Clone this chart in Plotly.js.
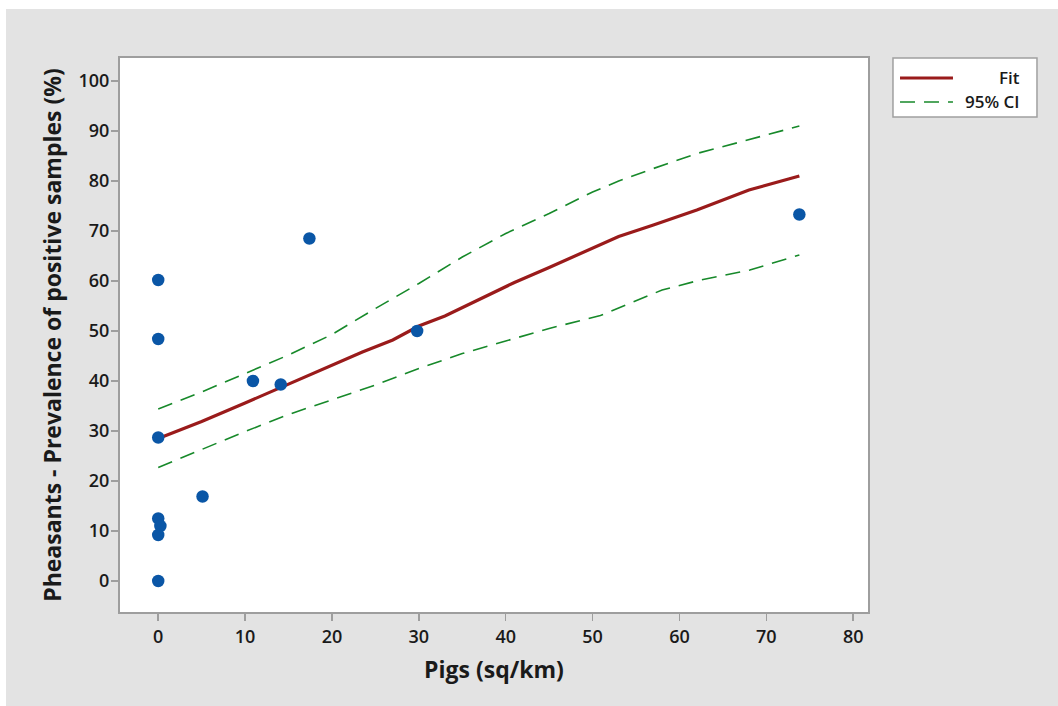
<!DOCTYPE html>
<html><head><meta charset="utf-8">
<script src="https://cdn.plot.ly/plotly-3.0.1.min.js"></script>
<style>
html,body{margin:0;padding:0;background:#ffffff;width:1058px;height:706px;overflow:hidden;}
#chart{position:absolute;left:6px;top:9px;width:1052px;height:697px;}
</style></head>
<body><div id="chart"></div>
<script>
// Observations
const pigs = [0, 0, 17.4, 29.8, 10.9, 14.1, 0, 5.1, 0, 0.25, 0, 0, 73.8];
const prevalence = [60.2, 48.4, 68.5, 50, 40, 39.3, 28.7, 16.9, 12.5, 11, 9.2, 0, 73.3];

// Fitted line
const fitX = [0, 2.5, 5, 10, 15, 20, 23.5, 27, 30, 33, 36, 39, 41, 45, 50, 53, 57, 62, 68, 73.8];
const fitY = [28.5, 30.2, 31.9, 35.6, 39.4, 43.2, 45.8, 48.2, 51, 53, 55.5, 57.9, 59.7, 62.7, 66.5, 68.9, 71.2, 74.2, 78.2, 81];

// 95% CI upper
const upX = [0, 5, 10, 15, 20, 25, 30, 35, 40, 45, 50, 53, 57, 62, 67, 73.8];
const upY = [34.4, 37.8, 41.5, 45.2, 49.3, 54.5, 59.5, 64.8, 69.5, 73.5, 77.8, 80, 82.5, 85.5, 87.8, 91];

// 95% CI lower
const loX = [0, 5, 10, 15, 21, 25, 30, 35, 40, 45, 50.9, 54.7, 58, 62.4, 68.1, 73.8];
const loY = [22.7, 26.3, 29.9, 33.3, 36.9, 39.2, 42.5, 45.5, 48, 50.5, 53.1, 55.8, 58.2, 60.2, 62.2, 65.2];

const xTicks = [0, 10, 20, 30, 40, 50, 60, 70, 80];
const yTicks = [0, 10, 20, 30, 40, 50, 60, 70, 80, 90, 100];

const FONT = "'Open Sans', 'Noto Sans', sans-serif";
const RED = '#9a1b1b';
const GREEN = '#17892a';

const traces = [
  {x: upX, y: upY, mode: 'lines', line: {color: GREEN, width: 1.6, dash: '15px,9px'}, showlegend: false, hoverinfo: 'skip'},
  {x: loX, y: loY, mode: 'lines', line: {color: GREEN, width: 1.6, dash: '15px,9px'}, showlegend: false, hoverinfo: 'skip'},
  {x: fitX, y: fitY, mode: 'lines', line: {color: RED, width: 3.2}, showlegend: false},
  {x: pigs, y: prevalence, mode: 'markers', marker: {color: '#0a56a6', size: 12.5}, showlegend: false}
];

const axisCommon = {
  showgrid: false, zeroline: false, showline: true, mirror: true,
  linecolor: '#9e9e9e', linewidth: 2,
  ticks: 'outside', ticklen: 7, tickwidth: 1.5, tickcolor: '#9e9e9e',
  tickfont: {family: FONT, size: 18, color: '#1a1a1a', weight: 600}
};

const layout = {
  width: 1052, height: 697,
  margin: {l: 114, r: 190, t: 49, b: 94},
  paper_bgcolor: '#e3e3e3', plot_bgcolor: '#ffffff',
  xaxis: Object.assign({}, axisCommon, {
    range: [-4.4, 81.7], tickvals: xTicks, ticktext: xTicks.map(String),
    title: {text: 'Pigs (sq/km)', font: {family: FONT, size: 23, color: '#1a1a1a', weight: 'bold'}, standoff: 15}
  }),
  yaxis: Object.assign({}, axisCommon, {
    range: [-6.2, 104.6], tickvals: yTicks, ticktext: yTicks.map(String),
    ticklabelstandoff: -2,
    title: {text: 'Pheasants - Prevalence of positive samples (%)', font: {family: FONT, size: 23, color: '#1a1a1a', weight: 'bold'}, standoff: 10}
  }),
  shapes: [
    {type: 'rect', xref: 'paper', yref: 'paper', x0: 1.0334, x1: 1.2259, y0: 0.8935, y1: 1.0,
     fillcolor: '#ffffff', line: {color: '#a0a0a0', width: 1.5}},
    {type: 'line', xref: 'paper', yref: 'paper', x0: 1.0428, x1: 1.1136, y0: 0.9639, y1: 0.9639,
     line: {color: RED, width: 3.2}},
    {type: 'line', xref: 'paper', yref: 'paper', x0: 1.0428, x1: 1.1136, y0: 0.9206, y1: 0.9206,
     line: {color: GREEN, width: 1.6, dash: '15px,9px'}}
  ],
  annotations: [
    {xref: 'paper', yref: 'paper', x: 1.2059, y: 0.9639, xanchor: 'right', yanchor: 'middle', showarrow: false,
     text: 'Fit', font: {family: FONT, size: 17, color: '#1a1a1a', weight: 600}},
    {xref: 'paper', yref: 'paper', x: 1.2059, y: 0.9206, xanchor: 'right', yanchor: 'middle', showarrow: false,
     text: '95% CI', font: {family: FONT, size: 17, color: '#1a1a1a', weight: 600}}
  ]
};

Plotly.newPlot('chart', traces, layout, {displayModeBar: false, staticPlot: true});
</script>
</body></html>
